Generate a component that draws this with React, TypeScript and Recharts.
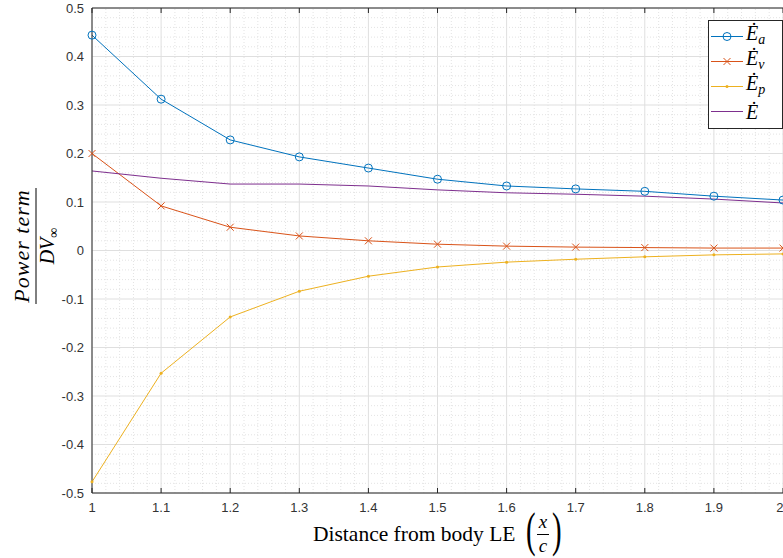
import React from 'react';
import { LineChart, Line, XAxis, YAxis, CartesianGrid, ReferenceLine, Legend } from 'recharts';

const distance = [1.0, 1.1, 1.2, 1.3, 1.4, 1.5, 1.6, 1.7, 1.8, 1.9, 2.0];
const powerA = [0.444, 0.312, 0.228, 0.193, 0.17, 0.147, 0.133, 0.127, 0.122, 0.112, 0.104];
const powerV = [0.2, 0.092, 0.048, 0.03, 0.02, 0.013, 0.009, 0.007, 0.006, 0.005, 0.005];
const powerP = [-0.477, -0.253, -0.137, -0.084, -0.053, -0.034, -0.024, -0.018, -0.013, -0.009, -0.007];
const powerTotal = [0.164, 0.149, 0.137, 0.137, 0.133, 0.125, 0.119, 0.116, 0.112, 0.106, 0.098];

const xTicks = [1, 1.1, 1.2, 1.3, 1.4, 1.5, 1.6, 1.7, 1.8, 1.9, 2];
const yTicks = [-0.5, -0.4, -0.3, -0.2, -0.1, 0, 0.1, 0.2, 0.3, 0.4, 0.5];
const xMinor: number[] = [];
for (let i = 1; i < 50; i++) { if (i % 5 !== 0) xMinor.push(+(1 + i * 0.02).toFixed(2)); }
const yMinor: number[] = [];
for (let i = 1; i < 50; i++) { if (i % 5 !== 0) yMinor.push(+(-0.5 + i * 0.02).toFixed(2)); }

const data = distance.map((d, i) => ({ x: d, a: powerA[i], v: powerV[i], p: powerP[i], e: powerTotal[i] }));

const C_A = '#0072BD';
const C_V = '#D95319';
const C_P = '#EDB120';
const C_E = '#7E2F8E';
const AXC = '#262626';
const MATH = '"Liberation Serif", "DejaVu Serif", serif';

const legendItems = [
  { sub: 'a', color: C_A, marker: 'o' },
  { sub: 'v', color: C_V, marker: 'x' },
  { sub: 'p', color: C_P, marker: '.' },
  { sub: '', color: C_E, marker: '' },
];

const CircleDot = (props: any) => {
  const { cx, cy } = props;
  return <circle key={`c${cx}`} cx={cx} cy={cy} r={4} fill="none" stroke={C_A} strokeWidth={1} />;
};
const CrossDot = (props: any) => {
  const { cx, cy } = props;
  const s = 3.5;
  return (
    <path key={`x${cx}`} d={`M${cx - s},${cy - s}L${cx + s},${cy + s}M${cx - s},${cy + s}L${cx + s},${cy - s}`} stroke={C_V} strokeWidth={1} fill="none" />
  );
};
const PointDot = (props: any) => {
  const { cx, cy } = props;
  return <circle key={`p${cx}`} cx={cx} cy={cy} r={1.5} fill={C_P} stroke="none" />;
};

const LegendBox = () => (
  <div style={{ width: 75, height: 109, border: `1px solid ${AXC}`, background: '#fff', boxSizing: 'border-box', paddingTop: 3 }}>
    {legendItems.map((it, i) => (
      <div key={i} style={{ display: 'flex', alignItems: 'center', height: 25 }}>
        <svg width={37} height={25} style={{ flex: 'none' }}>
          <line x1={2} x2={34} y1={12.5} y2={12.5} stroke={it.color} strokeWidth={1} />
          {it.marker === 'o' && <circle cx={18} cy={12.5} r={4} fill="none" stroke={it.color} />}
          {it.marker === 'x' && <path d="M14.5,9L21.5,16M14.5,16L21.5,9" stroke={it.color} />}
          {it.marker === '.' && <circle cx={18} cy={12.5} r={1.5} fill={it.color} />}
        </svg>
        <span style={{ fontFamily: MATH, fontStyle: 'italic', fontSize: 20, color: '#000', lineHeight: '20px', whiteSpace: 'nowrap' }}>
          Ė{it.sub && <sub style={{ fontSize: 14, verticalAlign: '-4px' }}>{it.sub}</sub>}
        </span>
      </div>
    ))}
  </div>
);

const YLabel = () => (
  <g transform="translate(36,246) rotate(-90)">
    <text x={0} y={-7} textAnchor="middle" fontFamily={MATH} fontStyle="italic" fontSize={22} letterSpacing={1} fill="#000">Power term</text>
    <line x1={-58} x2={58} y1={0} y2={0} stroke="#000" strokeWidth={1} />
    <text x={0} y={18} textAnchor="middle" fontFamily={MATH} fontStyle="italic" fontSize={20} fill="#000">
      DV<tspan fontSize={14} dy={4} fontStyle="normal">∞</tspan>
    </text>
  </g>
);

const XLabel = () => (
  <g>
    <text x={313} y={541} fontFamily={MATH} fontSize={21.5} fill="#000">Distance from body LE</text>
    <text transform="translate(526,546) scale(0.6,1)" fontFamily={MATH} fontSize={48} fill="#000">(</text>
    <text x={543} y={528} textAnchor="middle" fontFamily={MATH} fontStyle="italic" fontSize={19} fill="#000">x</text>
    <line x1={537} x2={549} y1={534.5} y2={534.5} stroke="#000" strokeWidth={1} />
    <text x={543} y={552} textAnchor="middle" fontFamily={MATH} fontStyle="italic" fontSize={19} fill="#000">c</text>
    <text transform="translate(552,546) scale(0.6,1)" fontFamily={MATH} fontSize={48} fill="#000">)</text>
  </g>
);

const tickStyle = { fontFamily: '"Liberation Sans", Arial, sans-serif', fontSize: 13, fill: '#333' };
const NoTick = () => <g />;

export default function App() {
  return (
    <div style={{ position: 'absolute', left: 0, top: 0, width: 783, height: 558, background: '#fff' }}>
      <LineChart width={783} height={558} data={data} margin={{ top: 8, right: 0, bottom: 0, left: 0 }}>
        {yMinor.map((v) => (
          <ReferenceLine key={`ym${v}`} y={v} stroke="#e3e3e3" strokeDasharray="1 2" ifOverflow="visible" />
        ))}
        {xMinor.map((v) => (
          <ReferenceLine key={`xm${v}`} x={v} stroke="#e3e3e3" strokeDasharray="1 2" ifOverflow="visible" />
        ))}
        <CartesianGrid stroke="#dfdfdf" strokeWidth={1} />
        <XAxis
          dataKey="x"
          type="number"
          domain={[1, 2]}
          ticks={xTicks}
          tickFormatter={(v: number) => String(v)}
          height={65}
          tick={tickStyle}
          tickLine={false}
          tickSize={0}
          tickMargin={10}
          axisLine={{ stroke: AXC }}
          allowDecimals
          label={<XLabel />}
        />
        <XAxis xAxisId="bt" dataKey="x" type="number" domain={[1, 2]} ticks={xTicks} mirror orientation="bottom" tick={NoTick} tickSize={5} tickLine={{ stroke: AXC }} axisLine={false} />
        <XAxis xAxisId="tp" dataKey="x" type="number" domain={[1, 2]} ticks={xTicks} mirror orientation="top" tick={NoTick} tickSize={5} tickLine={{ stroke: AXC }} axisLine={{ stroke: AXC }} />
        <YAxis
          type="number"
          domain={[-0.5, 0.5]}
          ticks={yTicks}
          tickFormatter={(v: number) => String(v)}
          width={92}
          tick={tickStyle}
          tickLine={false}
          tickSize={0}
          tickMargin={8}
          axisLine={{ stroke: AXC }}
          label={<YLabel />}
        />
        <YAxis yAxisId="lt" type="number" domain={[-0.5, 0.5]} ticks={yTicks} mirror orientation="left" tick={NoTick} tickSize={5} tickLine={{ stroke: AXC }} axisLine={false} />
        <Line type="linear" dataKey="a" stroke={C_A} strokeWidth={1} dot={<CircleDot />} isAnimationActive={false} />
        <Line type="linear" dataKey="v" stroke={C_V} strokeWidth={1} dot={<CrossDot />} isAnimationActive={false} />
        <Line type="linear" dataKey="p" stroke={C_P} strokeWidth={1} dot={<PointDot />} isAnimationActive={false} />
        <Line type="linear" dataKey="e" stroke={C_E} strokeWidth={1} dot={false} isAnimationActive={false} />
        <Legend layout="vertical" align="center" verticalAlign="middle" wrapperStyle={{ left: 708, top: 20, width: 75 }} content={<LegendBox />} />
      </LineChart>
    </div>
  );
}
